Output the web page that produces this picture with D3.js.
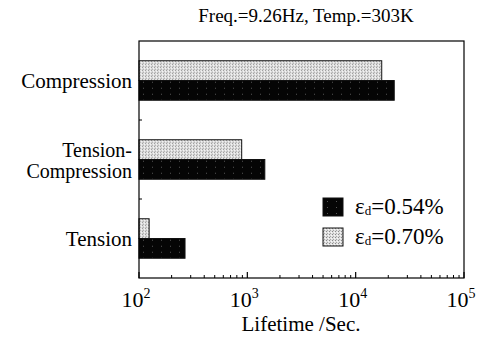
<!DOCTYPE html>
<html>
<head>
<meta charset="utf-8">
<script src="https://cdn.jsdelivr.net/npm/d3@7/dist/d3.min.js"></script>
<style>
  body { margin: 0; background: #fff; }
  svg text, svg tspan { font-family: "Liberation Serif", "Tinos", "Times New Roman" !important; }
</style>
</head>
<body>
<svg id="chart" width="492" height="337"></svg>
<script>
// data
const categories = ["Compression", "Tension-Compression", "Tension"];
const seriesNames = ["0.70%", "0.54%"];
const lifetime070 = [17400, 887, 124];
const lifetime054 = [22700, 1450, 266];
const xTickValues = [1e2, 1e3, 1e4, 1e5];
const xTickExp = ["2", "3", "4", "5"];

const W = 492, H = 337;
const margin = { top: 41, right: 28, bottom: 59, left: 139 };
const width = W - margin.left - margin.right;
const height = H - margin.top - margin.bottom;

const svg = d3.select('#chart');
const defs = svg.append('defs');

// stippled gray fill
const pg = defs.append('pattern').attr('id', 'grayDots')
  .attr('width', 3).attr('height', 3).attr('patternUnits', 'userSpaceOnUse');
pg.append('rect').attr('width', 3).attr('height', 3).attr('fill', '#e0e0e0');
pg.append('rect').attr('x', 0).attr('y', 0).attr('width', 1).attr('height', 1).attr('fill', '#8a8a8a');
pg.append('rect').attr('x', 2).attr('y', 1).attr('width', 1).attr('height', 1).attr('fill', '#f8f8f8');
pg.append('rect').attr('x', 1).attr('y', 2).attr('width', 1).attr('height', 1).attr('fill', '#a8a8a8');

// black fill with few specks
const pb = defs.append('pattern').attr('id', 'blackDots')
  .attr('width', 9).attr('height', 6).attr('patternUnits', 'userSpaceOnUse');
pb.append('rect').attr('width', 9).attr('height', 6).attr('fill', '#050505');
pb.append('rect').attr('x', 4).attr('y', 3).attr('width', 1).attr('height', 1).attr('fill', '#555');

const color = d3.scaleOrdinal().domain(seriesNames).range(['url(#grayDots)', 'url(#blackDots)']);

const g = svg.append('g').attr('transform', `translate(${margin.left},${margin.top})`);

const x = d3.scaleLog().domain([1e2, 1e5]).range([0, width]);
const y = d3.scaleBand().domain(categories).range([0, height]).paddingInner(0.5).paddingOuter(0.25);
const ySub = d3.scaleBand().domain(seriesNames).range([0, y.bandwidth()]);

// bars
const rows = categories.map((c, i) => ({ cat: c, values: [
  { s: "0.70%", v: lifetime070[i] },
  { s: "0.54%", v: lifetime054[i] }
]}));

const row = g.selectAll('.row').data(rows).enter().append('g')
  .attr('class', 'row')
  .attr('transform', d => `translate(0,${y(d.cat)})`);

row.selectAll('rect').data(d => d.values).enter().append('rect')
  .attr('x', 0)
  .attr('y', d => ySub(d.s))
  .attr('width', d => x(d.v))
  .attr('height', ySub.bandwidth())
  .attr('fill', d => color(d.s))
  .attr('stroke', '#111')
  .attr('stroke-width', 1);

// frame
g.append('rect').attr('width', width).attr('height', height)
  .attr('fill', 'none').attr('stroke', '#000').attr('stroke-width', 1.2);

// x ticks (inside, log minor ticks)
const minor = [];
for (let e = 2; e < 5; e++) for (let k = 2; k <= 9; k++) minor.push(k * Math.pow(10, e));
g.selectAll('.minor').data(minor).enter().append('line')
  .attr('x1', d => x(d)).attr('x2', d => x(d))
  .attr('y1', height).attr('y2', height - 3)
  .attr('stroke', '#000').attr('stroke-width', 1);
g.selectAll('.major').data(xTickValues).enter().append('line')
  .attr('x1', d => x(d)).attr('x2', d => x(d))
  .attr('y1', height).attr('y2', height - 6)
  .attr('stroke', '#000').attr('stroke-width', 1.2);

// y ticks between categories
const yGaps = categories.slice(1).map(c => y(c) - y.step() * y.paddingInner() / 2);
g.selectAll('.ytick').data(yGaps).enter().append('line')
  .attr('x1', 0).attr('x2', 3).attr('y1', d => d).attr('y2', d => d)
  .attr('stroke', '#000');

// x tick labels
const xl = g.selectAll('.xl').data(xTickValues).enter().append('text')
  .attr('x', d => x(d) - 3)
  .attr('y', height + 29)
  .attr('text-anchor', 'middle')
  .attr('font-size', 22);
xl.append('tspan').text('10');
xl.append('tspan').attr('dy', -9).attr('font-size', 14).text((d, i) => xTickExp[i]);

// category labels
g.selectAll('.yl').data(categories).enter().append('text')
  .attr('x', -7)
  .attr('text-anchor', 'end')
  .attr('font-size', 21)
  .each(function (d) {
    const t = d3.select(this);
    const cy = y(d) + y.bandwidth() / 2;
    if (d === "Tension-Compression") {
      t.attr('y', cy - 3).attr('font-size', 20);
      t.append('tspan').attr('x', -7).text('Tension-');
      t.append('tspan').attr('x', -7).attr('dy', 21).text('Compression');
    } else {
      t.attr('y', cy + 7).text(d);
    }
  });

// title and axis label
svg.append('text').attr('x', 306).attr('y', 22).attr('text-anchor', 'middle')
  .attr('font-size', 19).text('Freq.=9.26Hz, Temp.=303K');
svg.append('text').attr('x', 301).attr('y', 331).attr('text-anchor', 'middle')
  .attr('font-size', 21).text('Lifetime /Sec.');

// legend
const legendOrder = ["0.54%", "0.70%"];
const lg = svg.selectAll('.lg').data(legendOrder).enter().append('g')
  .attr('transform', (d, i) => `translate(323,${198 + i * 30})`);
lg.append('rect').attr('width', 20).attr('height', 18)
  .attr('fill', d => color(d)).attr('stroke', '#111');
const lt = lg.append('text').attr('x', 32).attr('y', 16).attr('font-size', 23);
lt.append('tspan').text('ε');
lt.append('tspan').attr('dy', 1).attr('font-size', 13).text('d');
lt.append('tspan').attr('dy', -1).text(d => '=' + d);

svg.selectAll('text').attr('font-family', 'Liberation Serif').attr('fill', '#000');
</script>
</body>
</html>
